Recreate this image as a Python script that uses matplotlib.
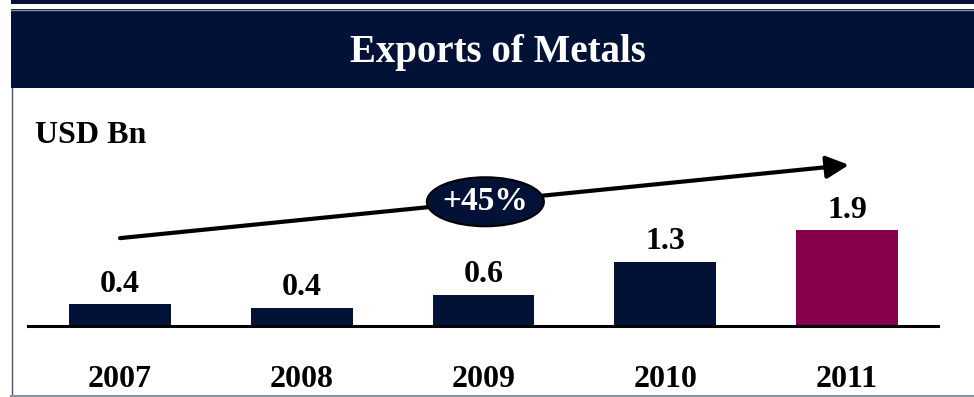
import matplotlib.pyplot as plt
from matplotlib.patches import Ellipse, Rectangle
from matplotlib.lines import Line2D

# data
years = ["2007", "2008", "2009", "2010", "2011"]
values = [0.43, 0.36, 0.62, 1.27, 1.90]
value_labels = ["0.4", "0.4", "0.6", "1.3", "1.9"]
growth_label = "+45%"
title = "Exports of Metals"
unit = "USD Bn"

# colours
navy = "#011236"
maroon = "#86004C"
bar_colors = [navy, navy, navy, navy, maroon]

# figure size in pixels, everything below is laid out in px
W, H = 974, 397
font = "Liberation Serif"
fs = 23


def fx(px):
    return px / W


def fy(py):
    # py measured from the top of the picture
    return 1 - py / H


fig = plt.figure(figsize=(W / 100, H / 100), dpi=100)
fig.patch.set_facecolor("white")

# header: thin strip on top, then the title band
fig.patches.append(Rectangle((fx(11), fy(4)), 1 - fx(11), fy(0) - fy(4),
                             transform=fig.transFigure, color=navy, lw=0))
fig.patches.append(Rectangle((fx(11), fy(88)), 1 - fx(11), fy(9) - fy(88),
                             transform=fig.transFigure, color=navy, lw=0))
fig.lines.append(Line2D([fx(11), 1], [fy(9.5), fy(9.5)], transform=fig.transFigure,
                        color="#8a93a3", lw=1))
fig.text(fx(498), fy(62), title, color="white", fontsize=28, fontweight="bold",
         family=font, ha="center", va="baseline")

# frame: left and bottom border
fig.lines.append(Line2D([fx(11.5), fx(11.5)], [fy(88), fy(396)], transform=fig.transFigure,
                        color="#4a5468", lw=1))
fig.lines.append(Line2D([fx(11), 1], [fy(395.5), fy(395.5)], transform=fig.transFigure,
                        color="#8a919c", lw=2.2))

fig.text(fx(35), fy(143), unit, fontsize=fs, fontweight="bold", family=font,
         ha="left", va="baseline")

# bar axes, baseline at y=326 px
px_per_unit = 50.5
ax = fig.add_axes([fx(28), fy(326), fx(938) - fx(28), fy(120) - fy(326)])
ax.set_xlim(-0.506, 4.5)
ax.set_ylim(0, 206 / px_per_unit)
ax.patch.set_alpha(0)

x = range(len(years))
bars = ax.bar(x, values, width=0.56, color=bar_colors, zorder=2)

for i, (v, lab) in enumerate(zip(values, value_labels)):
    ax.annotate(lab, (i, v), xytext=(0, 9), textcoords="offset points",
                ha="center", va="baseline", fontsize=fs, fontweight="bold", family=font)

ax.set_xticks(list(x))
ax.set_xticklabels(years, fontsize=fs, fontweight="bold", family=font)
ax.tick_params(axis="x", length=0, pad=28)
ax.set_yticks([])
for key in ("top", "left", "right"):
    ax.spines[key].set_visible(False)
ax.spines["bottom"].set_linewidth(2.2)
ax.spines["bottom"].set_zorder(3)

# growth arrow + CAGR bubble
ax.annotate("", xy=(4.01, 3.19), xytext=(0, 1.74),
            arrowprops=dict(arrowstyle="-|>", lw=3, color="black",
                            mutation_scale=34, shrinkA=0, shrinkB=0),
            annotation_clip=False)
ax.add_patch(Ellipse((2.01, 2.46), 117 / 181.75, 49 / px_per_unit,
                     facecolor=navy, edgecolor="black", lw=1.5, zorder=5, clip_on=False))
ax.text(2.01, 2.46, growth_label, color="white", fontsize=24, fontweight="bold",
        family=font, ha="center", va="center", zorder=6)

fig.savefig("out.png", dpi=100)
